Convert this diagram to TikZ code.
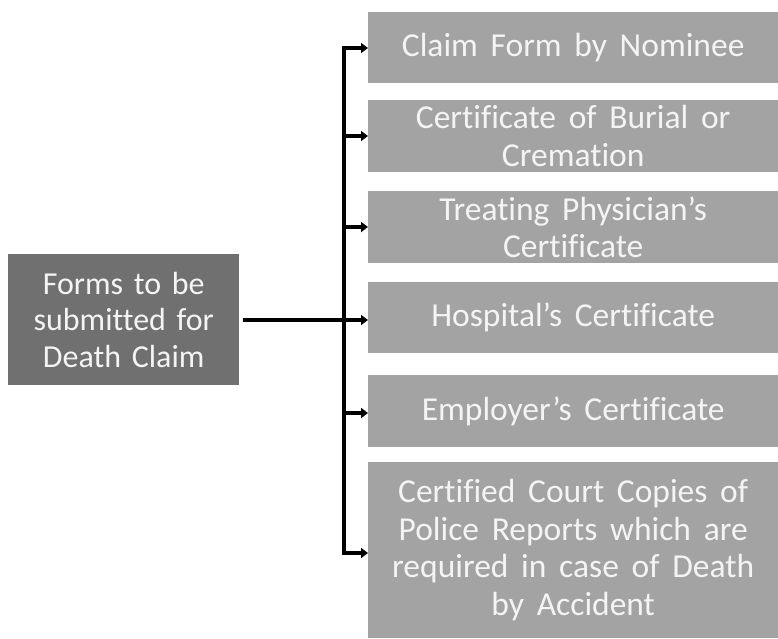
\documentclass[tikz,border=0pt]{standalone}
\usepackage{fontspec}
\setmainfont[Ligatures=NoCommon]{Carlito}
\usetikzlibrary{arrows.meta}
\definecolor{darkbox}{HTML}{707070}
\definecolor{lightbox}{HTML}{A3A3A3}
\definecolor{boxtext}{HTML}{F4F4F4}
\newcommand\widewords{\spaceskip=0.38em\relax}
\begin{document}
\begin{tikzpicture}[x=1pt,y=-1pt,
  rbox/.style={fill=lightbox, text=boxtext, anchor=north west, inner sep=0pt,
    minimum width=410pt, text width=405pt, align=center,
    font=\fontsize{33.5}{37.5}\selectfont,
    execute at begin node=\widewords},
  lbox/.style={fill=darkbox, text=boxtext, anchor=north west, inner sep=0pt,
    minimum width=231pt, minimum height=131pt, text width=228pt, align=center,
    font=\fontsize{32}{36.5}\selectfont},
  conn/.style={line width=3.5pt},
  arr/.style={line width=3.5pt, -{Triangle[length=7pt,width=10pt]}}]
\useasboundingbox (0,0) rectangle (778,638);
\fill[white] (0,0) rectangle (778,638);
\node[lbox] (src) at (8,254) {Forms to be\\submitted for\\Death Claim};
\node[rbox, minimum height=71pt] (b1) at (368,12) {Claim Form by Nominee};
\node[rbox, minimum height=72pt] (b2) at (368,100) {Certificate of Burial or\\Cremation};
\node[rbox, minimum height=72pt] (b3) at (368,191) {Treating Physician’s\\Certificate};
\node[rbox, minimum height=71pt] (b4) at (368,282) {Hospital’s Certificate};
\node[rbox, minimum height=72pt] (b5) at (368,375) {Employer’s Certificate};
\node[rbox, minimum height=176pt] (b6) at (368,462) {Certified Court Copies of\\Police Reports which are\\required in case of Death\\by Accident};
\coordinate (top) at (344,48);
\coordinate (bot) at (344,553);
\coordinate (mid) at (344,320);
\draw[conn] ([xshift=4pt]src.east |- mid) -- (mid);
\draw[conn, line cap=rect] (top) -- (bot);
\draw[arr] (top) -- (b1.west |- top);
\draw[arr] (344,136) -- (b2.west |- 0,136);
\draw[arr] (344,227) -- (b3.west |- 0,227);
\draw[arr] (mid) -- (b4.west |- mid);
\draw[arr] (344,413) -- (b5.west |- 0,413);
\draw[arr] (bot) -- (b6.west |- bot);
\end{tikzpicture}
\end{document}
